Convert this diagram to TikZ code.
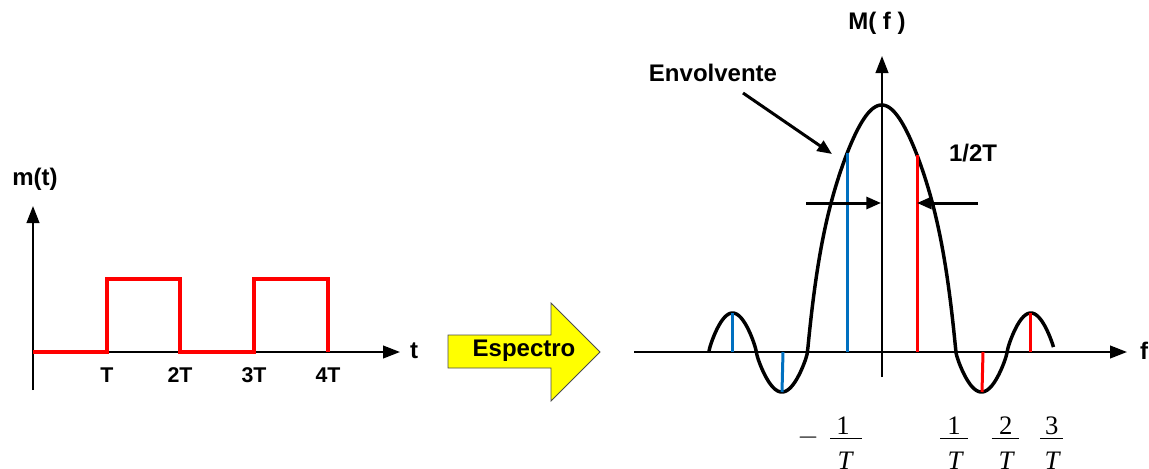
\documentclass[tikz,border=0pt]{standalone}
\usepackage{fontspec}
\setmainfont{Liberation Sans}
\newfontfamily\seriffont{Liberation Serif}
\usetikzlibrary{arrows.meta}
\definecolor{myblue}{RGB}{0,112,192}
\definecolor{myred}{RGB}{255,0,0}
\definecolor{myyellow}{RGB}{255,255,0}
\begin{document}
\begin{tikzpicture}[x=0.75pt,y=-0.75pt,
  declare function={
    lobe(\t)=pow(abs(sin(180*\t)),0.8);
    mainlobe(\v)=247*(1-\v*\v)*(1+0.6*\v*\v*\v*\v);
    env(\u)=(abs(\u)<1) ? mainlobe(min(abs(\u),1)) : ((abs(\u)<1.69) ? -40*lobe((abs(\u)-1)/0.69) : 39*lobe((abs(\u)-1.69)/0.64));
  },
  lbl/.style={font=\fontsize{18}{20}\selectfont\bfseries, inner sep=0pt},
  ticklbl/.style={font=\fontsize{16}{18}\selectfont\bfseries, inner sep=0pt},
  fraclbl/.style={font=\fontsize{20}{22}\seriffont, inner sep=0pt},
  axisline/.style={line width=1.5pt, -{Triangle[length=12.75pt,width=9.5pt]}},
  pointer/.style={line width=2.25pt, -{Triangle[length=11pt,width=9pt]}},
  wave/.style={line width=3pt, myred},
  envelope/.style={line width=2.6pt, black, line join=round},
  bluesp/.style={line width=2.25pt, myblue},
  redsp/.style={line width=2.25pt, myred},
  fracbar/.style={line width=0.75pt}]
\useasboundingbox (0,0) rectangle (1149,468);
\clip (0,0) rectangle (1149,468);

% ---------- left plot ----------
\coordinate (la0) at (33,390);
\coordinate (la1) at (33,206);
\coordinate (lh0) at (33,352);
\coordinate (lh1) at (400,352);
\draw[axisline] (la0) -- (la1);
\draw[axisline] (lh0) -- (lh1);
\node[lbl] (mt) at (35,179) {m(t)};
\node[lbl] (tl) at (414,351) {t};

\draw[wave] (33,352) -- (107,352) -- (107,279) -- (180,279) -- (180,352)
  -- (254,352) -- (254,279) -- (328,279) -- (328,352);

\node[ticklbl] (t1) at (107,375) {T};
\node[ticklbl] (t2) at (180,375) {2T};
\node[ticklbl] (t3) at (254,375) {3T};
\node[ticklbl] (t4) at (328,375) {4T};

% ---------- Espectro arrow ----------
\draw[fill=myyellow, draw=black!70, line width=0.6pt]
  (448,335) -- (551,335) -- (551,303) -- (600,352) -- (551,401) -- (551,368) -- (448,368) -- cycle;
\node[lbl] (esp) at (524,351) {Espectro};

% ---------- right plot ----------
\coordinate (ra0) at (882,377);
\coordinate (ra1) at (882,56);
\coordinate (rh0) at (634,352);
\coordinate (rh1) at (1127,352);
\draw[axisline] (ra0) -- (ra1);
\draw[axisline] (rh0) -- (rh1);
\node[lbl] (Mf) at (877,23) {M( f )};
\node[lbl] (fl) at (1144,351) {f};

% envelope
\draw[envelope] plot[domain=-2.33:2.32, samples=401, variable=\u]
  ({881.7+74.2*\u}, {352-env(\u)});

% spectral lines (tops on the envelope)
\draw[bluesp] (732,352) -- (732,{352-env((732-881.7)/74.2)});
\draw[bluesp] (783,352) -- (782,{352-env((782-881.7)/74.2)});
\draw[bluesp] (847,352) -- (847,{352-env((847-881.7)/74.2)});
\draw[redsp] (917,352) -- (917,{352-env((917-881.7)/74.2)});
\draw[redsp] (983,352) -- (982,{352-env((982-881.7)/74.2)});
\draw[redsp] (1030,352) -- (1030,{352-env((1030-881.7)/74.2)});

% Envolvente label and pointer
\node[lbl] (env) at (713,73) {Envolvente};
\coordinate (envs) at (743,93);
\coordinate (envt) at (832,154);
\draw[pointer] (envs) -- (envt);

% 1/2T
\node[lbl] (half) at (973,153) {1/2T};
\coordinate (hl0) at (806,203);
\coordinate (hl1) at (881,203);
\coordinate (hr0) at (978,203);
\coordinate (hr1) at (917,203);
\draw[pointer] (hl0) -- (hl1);
\draw[pointer] (hr0) -- (hr1);

% fractions
\node[fraclbl] (minus) at (808,437.3) {$-$};
\node[fraclbl] (n1) at (843,425.8) {1};
\draw[fracbar] (830,438.3) -- (861.7,438.3);
\node[fraclbl] (d1) at (845,460.5) {\itshape T};
\node[fraclbl] (n2) at (954,425.8) {1};
\draw[fracbar] (940,438.3) -- (968.3,438.3);
\node[fraclbl] (d2) at (955,460.5) {\itshape T};
\node[fraclbl] (n3) at (1005.7,425.8) {2};
\draw[fracbar] (991.7,438.3) -- (1019.3,438.3);
\node[fraclbl] (d3) at (1006,460.5) {\itshape T};
\node[fraclbl] (n4) at (1051.7,425.8) {3};
\draw[fracbar] (1040,438.3) -- (1063.3,438.3);
\node[fraclbl] (d4) at (1052,460.5) {\itshape T};
\end{tikzpicture}
\end{document}
